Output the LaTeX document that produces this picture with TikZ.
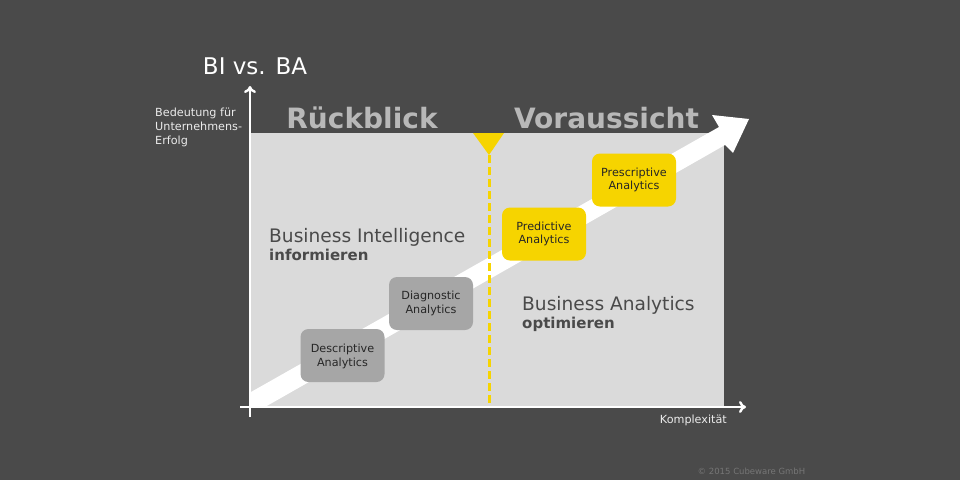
\documentclass[tikz,border=0pt]{standalone}
\usepackage{fontspec}
\setmainfont{DejaVu Sans}
\usetikzlibrary{arrows.meta}
\definecolor{bgdark}{HTML}{4A4A4A}
\definecolor{panelgray}{HTML}{DADADA}
\definecolor{boxgray}{HTML}{A6A6A6}
\definecolor{boxyellow}{HTML}{F6D400}
\definecolor{headgray}{HTML}{B8B8B8}
\definecolor{textdark}{HTML}{4A4A4A}
\tikzset{
    axisline/.style={white, line width=2.4pt, -{To[length=7pt,width=12pt,line width=2.4pt]}},
    anabox/.style={rounded corners=8pt, minimum width=84pt, minimum height=53pt, inner sep=0pt,
        align=center, text=black!85, font=\fontsize{11.2}{13.6}\selectfont},
    greybox/.style={anabox, fill=boxgray},
    yellowbox/.style={anabox, fill=boxyellow},
    headline/.style={text=headgray, font=\fontsize{28}{32}\selectfont\bfseries, inner sep=0pt},
    smalllabel/.style={text=white!92!black, align=left, inner sep=0pt, font=\fontsize{11.2}{14}\selectfont},
    biglabel/.style={text=textdark, align=left, inner sep=0pt, font=\fontsize{18.6}{20}\selectfont},
}
\begin{document}
\begin{tikzpicture}[x=1pt,y=-1pt]
    % Background and panel
    \fill[bgdark] (0,0) rectangle (960,480);
    \useasboundingbox (0,0) rectangle (960,480);
    \fill[panelgray] (251,133) rectangle (724,406);

    % Define the points
    \coordinate (xstart) at (240,407);
    \coordinate (xend) at (746,407);
    \coordinate (ystart) at (250,417);
    \coordinate (yend) at (250,86);
    \coordinate (marktop) at (489,155);
    \coordinate (markbottom) at (489,406);

    % Draw the big arrow
    \fill[white] (251,392) -- (719,127) -- (712,115) -- (749,119) -- (733,153) -- (725,145)
        -- (265,407) -- (251,407) -- cycle;

    % Draw the axes
    \draw[axisline] (xstart) -- (xend);
    \draw[axisline] (ystart) -- (yend);

    % Draw the yellow marker
    \fill[boxyellow] (473,133) -- (504,133) -- (marktop) -- cycle;
    \draw[boxyellow, line width=3pt, dash pattern=on 8pt off 4pt] (marktop) -- (markbottom);

    % Draw the boxes
    \node[greybox, text depth=0pt] (descriptive) at (342.5,355.5) {Descriptive\\Analytics};
    \node[greybox] (diagnostic) at (431,303.5) {Diagnostic\\Analytics};
    \node[yellowbox] (predictive) at (544,234) {Predictive\\Analytics};
    \node[yellowbox] (prescriptive) at (634,180) {Prescriptive\\Analytics};

    % Label the headlines
    \node[headline] (rueckblick) at (362,118) {Rückblick};
    \node[headline] (voraussicht) at (606.5,118) {Voraussicht};
    \node[text=white, inner sep=0pt, font=\fontsize{23}{27}\selectfont] (title) at (255,66) {BI vs. BA};

    % Label the axes
    \node[smalllabel, anchor=north west] (ylabel) at (155,108) {Bedeutung für\\Unternehmens-\\Erfolg};
    \node[smalllabel, anchor=north east] (xlabel) at (727,414.5) {Komplexität};

    % Label the two areas
    \node[biglabel, anchor=north west] (bi) at (269,228) {Business Intelligence\\[-2pt]{\fontsize{15}{17}\selectfont\bfseries informieren}};
    \node[biglabel, anchor=north west] (ba) at (522,296.5) {Business Analytics\\[-2.5pt]{\fontsize{15}{17}\selectfont\bfseries optimieren}};

    % Copyright
    \node[text=white!24!bgdark, inner sep=0pt, font=\fontsize{8.5}{11}\selectfont] (copyright) at (751.5,471) {© 2015 Cubeware GmbH};
\end{tikzpicture}
\end{document}
